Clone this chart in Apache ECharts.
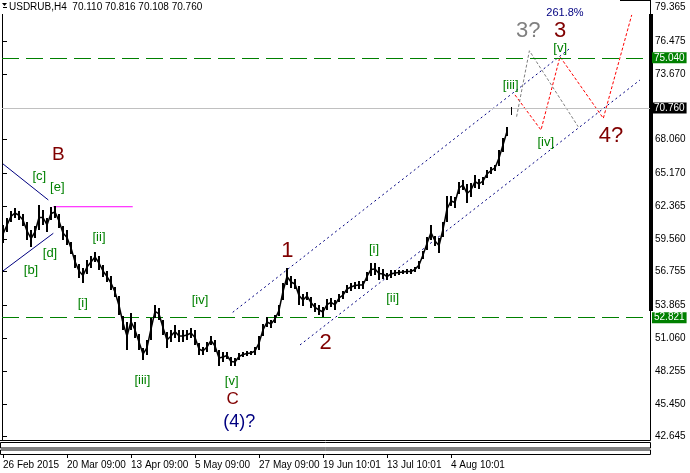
<!DOCTYPE html>
<html><head><meta charset="utf-8">
<script src="https://cdn.jsdelivr.net/npm/echarts@6/dist/echarts.min.js"></script>
<style>html,body{margin:0;padding:0;background:#fff}#c{width:690px;height:473px}</style>
</head><body><div id="c"></div>
<script>
const headerText = 'USDRUB,H4  70.110 70.816 70.108 70.760';
const xTickPos = [0, 16, 32, 48, 64, 80, 96, 112];
const xTickLabels = ['26 Feb 2015', '20 Mar 09:00', '13 Apr 09:00', '5 May 09:00', '27 May 09:00', '19 Jun 10:01', '13 Jul 10:01', '4 Aug 10:01'];
const yTicks = [79.365, 76.475, 73.670, 68.060, 65.170, 62.365, 59.560, 56.755, 53.865, 51.060, 48.255, 45.450, 42.645];
const yTickMarks = [79.365, 76.475, 73.670, 70.760, 68.060, 65.170, 62.365, 59.560, 56.755, 53.865, 51.060, 48.255, 45.450, 42.645];

const barLows = [59.21,60.15,61.01,61.35,61.18,60.66,59.47,58.87,59.64,60.32,60.75,60.15,61.18,61.35,60.49,59.47,59.04,58.27,57.07,56.22,
55.79,56.56,57.07,57.59,56.90,56.30,55.87,55.19,54.59,53.05,51.77,50.06,51.77,51.09,50.06,49.20,49.63,50.91,52.80,52.63,
51.34,50.23,50.74,51.09,50.74,50.74,50.91,51.09,50.49,49.63,49.63,49.89,50.49,49.89,48.69,49.03,49.29,48.69,48.69,49.20,
49.46,49.54,49.63,49.63,50.06,51.26,52.03,51.94,52.37,52.97,54.34,55.62,55.36,55.28,53.91,53.82,54.34,53.65,53.31,53.05,
52.88,53.48,53.74,53.48,54.16,54.42,54.93,55.10,55.28,55.28,55.28,55.96,56.39,56.47,56.05,56.13,56.05,56.22,56.39,56.47,
56.56,56.56,56.56,56.73,56.99,57.84,58.61,59.47,58.95,58.35,59.72,61.00,62.37,62.20,63.40,63.74,62.63,63.14,63.91,63.83,
64.17,64.77,65.11,65.37,65.79,66.99,68.36,70.108];
const barHighs = [60.75,61.35,61.95,62.20,61.95,61.69,61.01,60.32,60.66,62.46,62.03,61.35,62.29,62.37,61.69,60.66,60.32,59.30,58.18,57.41,
57.07,57.76,58.10,58.44,58.10,57.33,56.81,56.39,55.45,54.68,52.97,52.45,53.22,52.45,51.43,50.23,50.91,52.80,53.91,53.65,
52.63,51.60,51.77,52.20,51.77,51.77,51.77,51.94,51.77,50.66,50.32,50.74,51.26,50.91,50.06,49.89,49.89,49.46,49.37,49.80,
49.89,49.97,49.97,50.32,51.26,52.28,52.88,52.63,53.05,53.91,55.79,57.07,56.39,56.13,55.53,54.85,55.02,54.59,54.08,53.91,
53.74,54.42,54.51,54.34,54.85,55.10,55.62,55.79,55.87,55.96,55.96,56.73,57.50,57.50,57.16,56.99,56.64,56.90,56.90,56.90,
56.90,56.99,56.99,57.16,57.67,58.53,59.72,60.75,59.81,59.64,61.00,63.23,63.23,63.14,64.42,64.60,64.25,64.34,65.02,64.68,
64.85,65.45,65.71,65.88,67.16,68.19,69.13,70.816];

const greenLevels = [75.040, 52.821];
const currentPrice = 70.760;

const bLineUpper = [[0, 65.97], [11.33, 62.89]];
const bLineLower = [[0, 56.82], [12.58, 60.04]];
const magentaLine = [[12.58, 62.31], [32.43, 62.31]];
const channelUpper = [[57.43, 53.28], [141.75, 75.86]];
const channelLower = [[74.25, 50.49], [159.25, 73.15]];
const redPath = [[128, 71.87], [134.5, 68.87], [139.25, 75.14], [150.08, 69.87], [157.18, 78.71]];
const grayPath = [[128.4, 70.01], [131.6, 75.65], [143.8, 69.15]];

const labelTexts = ['B','[c]','[e]','[b]','[d]','[ii]','[i]','[iii]','[iv]','[v]','C','(4)?','1','2','[i]','[ii]','[iii]','[iv]','[v]','3?','3','4?','261.8%'];
const labelX = [13.83,9.08,13.58,7.0,11.75,24.0,19.93,34.83,49.25,57.18,57.43,59.08,71.08,80.68,92.75,97.43,126.9,135.7,139.3,131.3,139.3,152.0,140.5];
const labelY = [66.73,64.88,63.94,56.84,58.35,59.72,54.08,47.43,54.33,47.35,45.87,43.93,58.55,50.63,58.70,54.48,72.72,67.79,75.86,77.36,77.36,68.36,78.90];
const labelKinds = ['mb','g','g','g','g','g','g','g','g','g','mc','n','m','m','g','g','g','g','g','gr','m','m','np'];

const FONT = '"Liberation Sans", Arial, sans-serif';
const kindStyle = {
  g: {fill: '#008000', size: 13},
  m: {fill: '#800000', size: 22},
  mb: {fill: '#800000', size: 19},
  mc: {fill: '#800000', size: 17},
  n: {fill: '#000080', size: 18},
  np: {fill: '#000080', size: 11},
  gr: {fill: '#808080', size: 22}
};

const chart = echarts.init(document.getElementById('c'), null, {renderer: 'canvas'});

function lineSeries(data, color, type, width, extra) {
  return Object.assign({
    type: 'line', data: data, symbol: 'none', silent: true, animation: false,
    lineStyle: {color: color, width: width, type: type}, z: 3
  }, extra || {});
}

const levelLabel = (bg) => ({
  show: true, position: 'end', distance: 2, color: '#fff', backgroundColor: bg,
  padding: [1, 2, 0, 2], fontFamily: FONT, fontSize: 10,
  formatter: p => p.name
});

const option = {
  animation: false,
  backgroundColor: '#fff',
  grid: {left: 2, right: 40, top: 1, bottom: 33, show: false},
  xAxis: {
    type: 'value', min: -0.25, max: 161.75, offset: 14,
    axisLine: {show: false}, splitLine: {show: false},
    axisTick: {show: true, customValues: xTickPos, length: 4, lineStyle: {color: '#000'}},
    axisLabel: {customValues: xTickPos, formatter: v => xTickLabels[xTickPos.indexOf(v)] || '',
      align: 'left', margin: 6, color: '#000', fontFamily: FONT, fontSize: 10}
  },
  yAxis: {
    type: 'value', position: 'right', min: 42.363, max: 79.903, scale: true,
    axisLine: {show: false}, splitLine: {show: false},
    axisTick: {show: true, customValues: yTickMarks, length: 4, lineStyle: {color: '#000'}},
    axisLabel: {customValues: yTicks, formatter: v => Number(v).toFixed(3), margin: 5,
      color: '#000', fontFamily: FONT, fontSize: 10}
  },
  graphic: [
    {type: 'polygon', shape: {points: [[2, 3], [7, 3], [4.5, 6]]}, style: {fill: '#000'}},
    {type: 'text', left: 9, top: 2, style: {text: headerText, fill: '#000', font: '10px ' + FONT}},
    {type: 'line', shape: {x1: 2.5, y1: 14, x2: 2.5, y2: 440.5}, style: {stroke: '#000', lineWidth: 1}},
    {type: 'line', shape: {x1: 0, y1: 440.5, x2: 650.5, y2: 440.5}, style: {stroke: '#000', lineWidth: 1}},
    {type: 'line', shape: {x1: 650.5, y1: 0, x2: 650.5, y2: 440.5}, style: {stroke: '#000', lineWidth: 1}},
    {type: 'line', shape: {x1: 620, y1: 0.5, x2: 650.5, y2: 0.5}, style: {stroke: '#000', lineWidth: 1}},
    {type: 'rect', shape: {x: 649, y: 14, width: 4, height: 297}, style: {fill: '#000'}},
    {type: 'rect', shape: {x: 0.5, y: 442.5, width: 650, height: 5.5}, style: {fill: 'none', stroke: '#000', lineWidth: 1}},
    {type: 'rect', shape: {x: 0.5, y: 450, width: 650, height: 4.5}, style: {fill: 'none', stroke: '#000', lineWidth: 1}}
  ],
  series: [
    lineSeries(bLineUpper, '#000080', 'solid', 1, {
      z: 1,
      markLine: {
        silent: true, symbol: ['none', 'none'], animation: false,
        data: [
          {name: greenLevels[0].toFixed(3), yAxis: greenLevels[0], lineStyle: {color: '#008000', type: [17, 7], width: 1}, label: levelLabel('#008000')},
          {name: greenLevels[1].toFixed(3), yAxis: greenLevels[1], lineStyle: {color: '#008000', type: [17, 7], width: 1}, label: levelLabel('#008000')},
          {name: currentPrice.toFixed(3), yAxis: currentPrice, lineStyle: {color: '#c0c0c0', type: 'solid', width: 1}, label: levelLabel('#000')}
        ]
      }
    }),
    lineSeries(bLineLower, '#000080', 'solid', 1),
    lineSeries(magentaLine, '#ff00ff', 'solid', 1),
    lineSeries(channelUpper, '#000080', [2, 3], 1),
    lineSeries(channelLower, '#000080', [2, 3], 1),
    lineSeries(redPath, '#ff0000', [3, 2], 1),
    lineSeries(grayPath, '#808080', [3, 2], 1),
    {
      type: 'custom', z: 5, silent: true, animation: false,
      data: barLows.map((l, i) => [i, l, barHighs[i]]),
      encode: {x: 0, y: [1, 2]},
      renderItem: function (params, api) {
        const i = api.value(0);
        const lo = api.coord([i, api.value(1)]);
        const hi = api.coord([i, api.value(2)]);
        const last = i === barLows.length - 1;
        const w = last ? 1 : 2;
        const x0 = Math.round(lo[0] - w / 2);
        const children = [{type: 'rect', shape: {x: x0, y: Math.round(hi[1]), width: w, height: Math.max(1, Math.round(lo[1] - hi[1]))}, style: {fill: '#000'}}];
        if (i > 0 && !last) {
          const p = api.coord([i - 1, (barLows[i - 1] + barHighs[i - 1]) / 2]);
          const c = api.coord([i, (api.value(1) + api.value(2)) / 2]);
          children.push({type: 'line', shape: {x1: p[0], y1: p[1], x2: c[0], y2: c[1]}, style: {stroke: '#000', lineWidth: 1.5}});
        }
        return {type: 'group', children: children};
      }
    },
    {
      type: 'custom', z: 6, silent: true, animation: false,
      data: labelTexts.map((t, i) => [labelX[i], labelY[i], i]),
      encode: {x: 0, y: 1},
      renderItem: function (params, api) {
        const idx = api.value(2);
        const p = api.coord([api.value(0), api.value(1)]);
        const s = kindStyle[labelKinds[idx]];
        return {type: 'text', x: p[0], y: p[1], style: {text: labelTexts[idx], fill: s.fill, fontSize: s.size, fontFamily: FONT, align: 'center', verticalAlign: 'middle'}};
      }
    }
  ]
};
chart.setOption(option);
</script></body></html>
